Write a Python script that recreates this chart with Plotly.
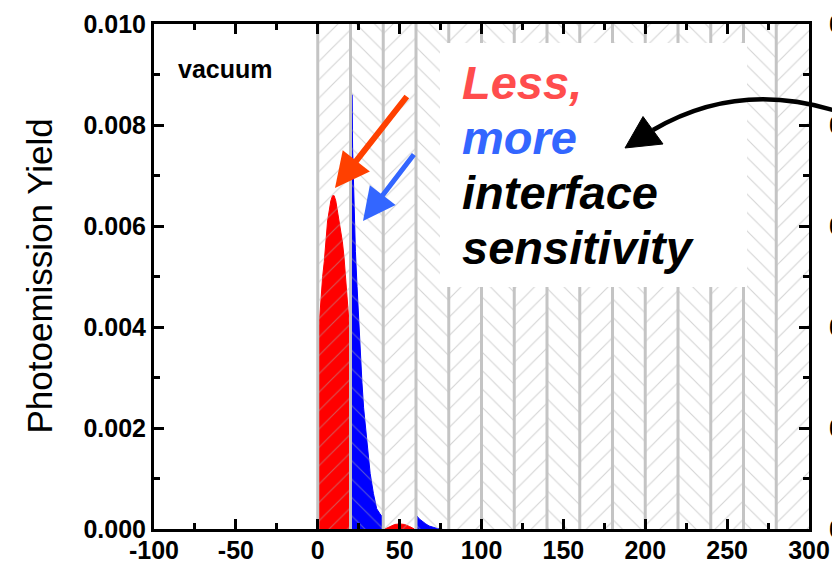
import plotly.graph_objects as go

# ---- data -------------------------------------------------------------
# depth profile of photoemission yield (x: depth, y: yield)
red_main_x = [0, 0, 1, 2, 3, 4, 5, 6, 7, 8, 9, 10, 11, 12, 13, 14, 15, 16, 17, 18, 19, 20, 20]
red_main_y = [0, 0.0038, 0.0041, 0.0046, 0.0050, 0.0053, 0.0058, 0.0061, 0.0063, 0.0065, 0.0066,
              0.0066, 0.0065, 0.0063, 0.0061, 0.0059, 0.0057, 0.0054, 0.0050, 0.0045, 0.0041, 0.0037, 0]
red_bump_x = [41, 44, 47, 50, 53, 56, 59]
red_bump_y = [0, 0.00005, 0.00009, 0.00010, 0.00009, 0.00005, 0]

blue_main_x = [20.5, 20.5, 20.9, 21.3, 22, 23, 24, 25, 26, 27, 28, 30, 32, 34, 36, 38, 40, 40]
blue_main_y = [0, 0.0050, 0.0086, 0.0075, 0.0065, 0.0055, 0.0048, 0.0041, 0.0035, 0.0029, 0.0024,
               0.0017, 0.0011, 0.0007, 0.0004, 0.0003, 0.00022, 0]
blue_tail_x = [60.5, 60.5, 62, 64, 66, 68, 70, 73, 76]
blue_tail_y = [0, 0.00026, 0.00020, 0.00014, 0.00010, 0.00006, 0.00004, 0.00001, 0]

# layer boundaries of the film stack (20 units thick each)
layer_edges = [0, 20, 40, 60, 80, 100, 120, 140, 160, 180, 200, 220, 240, 260, 280, 300]

x_ticks = [-100, -50, 0, 50, 100, 150, 200, 250, 300]
x_ticktext = ["-100", "-50", "0", "50", "100", "150", "200", "250", "300"]
x_minor = [-75, -25, 25, 75, 125, 175, 225, 275]
y_ticks = [0, 0.002, 0.004, 0.006, 0.008, 0.010]
y_ticktext = ["0.000", "0.002", "0.004", "0.006", "0.008", "0.010"]
y_minor = [0.001, 0.003, 0.005, 0.007, 0.009]

# ---- geometry helpers (plot area in pixels) ----------------------------
W, H = 832, 564
L, R, T, B = 154, 809, 24, 529


def pxx(xp):
    return (xp - L) / (R - L)


def pxy(yp):
    return (B - yp) / (B - T)


FONT = "Liberation Sans, Arial"
BOLD = dict(family=FONT, size=25, color="black", weight="bold")

fig = go.Figure()

# yield curves
for xs, ys, col in [(red_main_x, red_main_y, "#ff0000"), (red_bump_x, red_bump_y, "#ff0000"),
                    (blue_main_x, blue_main_y, "#0000ff"), (blue_tail_x, blue_tail_y, "#0000ff")]:
    fig.add_trace(go.Scatter(x=xs, y=ys, mode="lines", fill="toself", fillcolor=col,
                             line=dict(color=col, width=1), hoverinfo="skip", showlegend=False))

# herringbone hatching of the layers
for i in range(len(layer_edges) - 1):
    x0, x1 = layer_edges[i], layer_edges[i + 1]
    fig.add_trace(go.Scatter(
        x=[x0, x1, x1, x0, x0], y=[0, 0, 0.010, 0.010, 0], mode="lines", fill="toself",
        fillcolor="rgba(0,0,0,0)", line=dict(width=0, color="rgba(0,0,0,0)"),
        fillpattern=dict(shape="/" if i % 2 == 0 else "\\", fgcolor="#a9a9a9",
                         bgcolor="rgba(0,0,0,0)", size=13, solidity=0.085),
        hoverinfo="skip", showlegend=False))

# layer boundary lines
bx, by = [], []
for e in layer_edges[:-1]:
    bx += [e, e, None]
    by += [0, 0.010, None]
fig.add_trace(go.Scatter(x=bx, y=by, mode="lines", line=dict(color="#c4c4c4", width=3),
                         hoverinfo="skip", showlegend=False))

axis_common = dict(showgrid=False, zeroline=False, showline=True, linewidth=3, linecolor="black",
                   mirror="ticks", ticks="inside", ticklen=10, tickwidth=3, tickcolor="black",
                   tickfont=BOLD, automargin=False)

fig.update_layout(
    width=W, height=H,
    margin=dict(l=L, r=W - R, t=T, b=H - B),
    paper_bgcolor="white", plot_bgcolor="white",
    showlegend=False,
    xaxis=dict(range=[-100, 300], tickmode="array", tickvals=x_ticks, ticktext=x_ticktext,
               ticklabelstandoff=-3,
               minor=dict(tickvals=x_minor, ticks="inside", ticklen=6,
                          tickwidth=3, tickcolor="black"),
               **axis_common),
    yaxis=dict(range=[0, 0.010], tickmode="array", tickvals=y_ticks, ticktext=y_ticktext,
               minor=dict(tickvals=y_minor, ticks="inside", ticklen=6,
                          tickwidth=3, tickcolor="black"),
               **axis_common),
)

# tick labels of the right-hand axis (they run off the page edge)
for v, t in zip(y_ticks, y_ticktext):
    fig.add_annotation(xref="paper", yref="y", x=pxx(827), y=v, text="<b>" + t + "</b>",
                       showarrow=False, xanchor="left", yanchor="middle",
                       font=dict(family=FONT, size=25, color="black"))

# white label box
fig.add_shape(type="rect", xref="paper", yref="paper", x0=pxx(440), x1=pxx(747),
              y0=pxy(287), y1=pxy(43), fillcolor="white", line=dict(width=0), layer="above")

# curved black arrow coming from the right
p0, c, p2 = (845, 114), (742, 78), (653, 130)
curve = "M{:.4f},{:.4f} Q{:.4f},{:.4f} {:.4f},{:.4f}".format(
    pxx(p0[0]), pxy(p0[1]), pxx(c[0]), pxy(c[1]), pxx(p2[0]), pxy(p2[1]))
fig.add_shape(type="path", xref="paper", yref="paper", path=curve,
              line=dict(color="black", width=4.5), layer="above")
head = [(625, 148), (643, 116.5), (663, 144)]
head_path = "M" + " L".join("{:.4f},{:.4f}".format(pxx(a), pxy(b)) for a, b in head) + " Z"
fig.add_shape(type="path", xref="paper", yref="paper", path=head_path,
              fillcolor="black", line=dict(color="black", width=1), layer="above")

# straight arrows pointing at the red and blue peaks
for tip, tail, col, w, s in [((335, 188), (408, 95), "#ff4000", 6, 1.15),
                             ((363, 221), (415, 153), "#3366ff", 5, 1.3)]:
    fig.add_annotation(xref="paper", yref="paper", x=pxx(tip[0]), y=pxy(tip[1]), text="",
                       showarrow=True, arrowhead=2, arrowsize=s, arrowwidth=w, arrowcolor=col,
                       ax=tail[0] - tip[0], ay=tail[1] - tip[1], standoff=0)

# text labels
fig.add_annotation(xref="paper", yref="paper", x=pxx(39), y=0.5, text="Photoemission Yield",
                   textangle=-90, showarrow=False, xanchor="center", yanchor="middle",
                   font=dict(family=FONT, size=35, color="black"))
fig.add_annotation(xref="paper", yref="paper", x=pxx(225), y=pxy(69), text="<b>vacuum</b>",
                   showarrow=False, xanchor="center", yanchor="middle",
                   font=dict(family=FONT, size=25, color="black"))

box_lines = [("Less,", "#ff4d4d", 97), ("more", "#3366ff", 152),
             ("interface", "black", 208), ("sensitivity", "black", 263)]
for txt, col, base in box_lines:
    fig.add_annotation(xref="paper", yref="paper", x=pxx(460), y=pxy(base - 15),
                       text="<b><i>" + txt + "</i></b>", showarrow=False,
                       xanchor="left", yanchor="middle",
                       font=dict(family=FONT, size=47, color=col))

fig.write_html("out.html")
